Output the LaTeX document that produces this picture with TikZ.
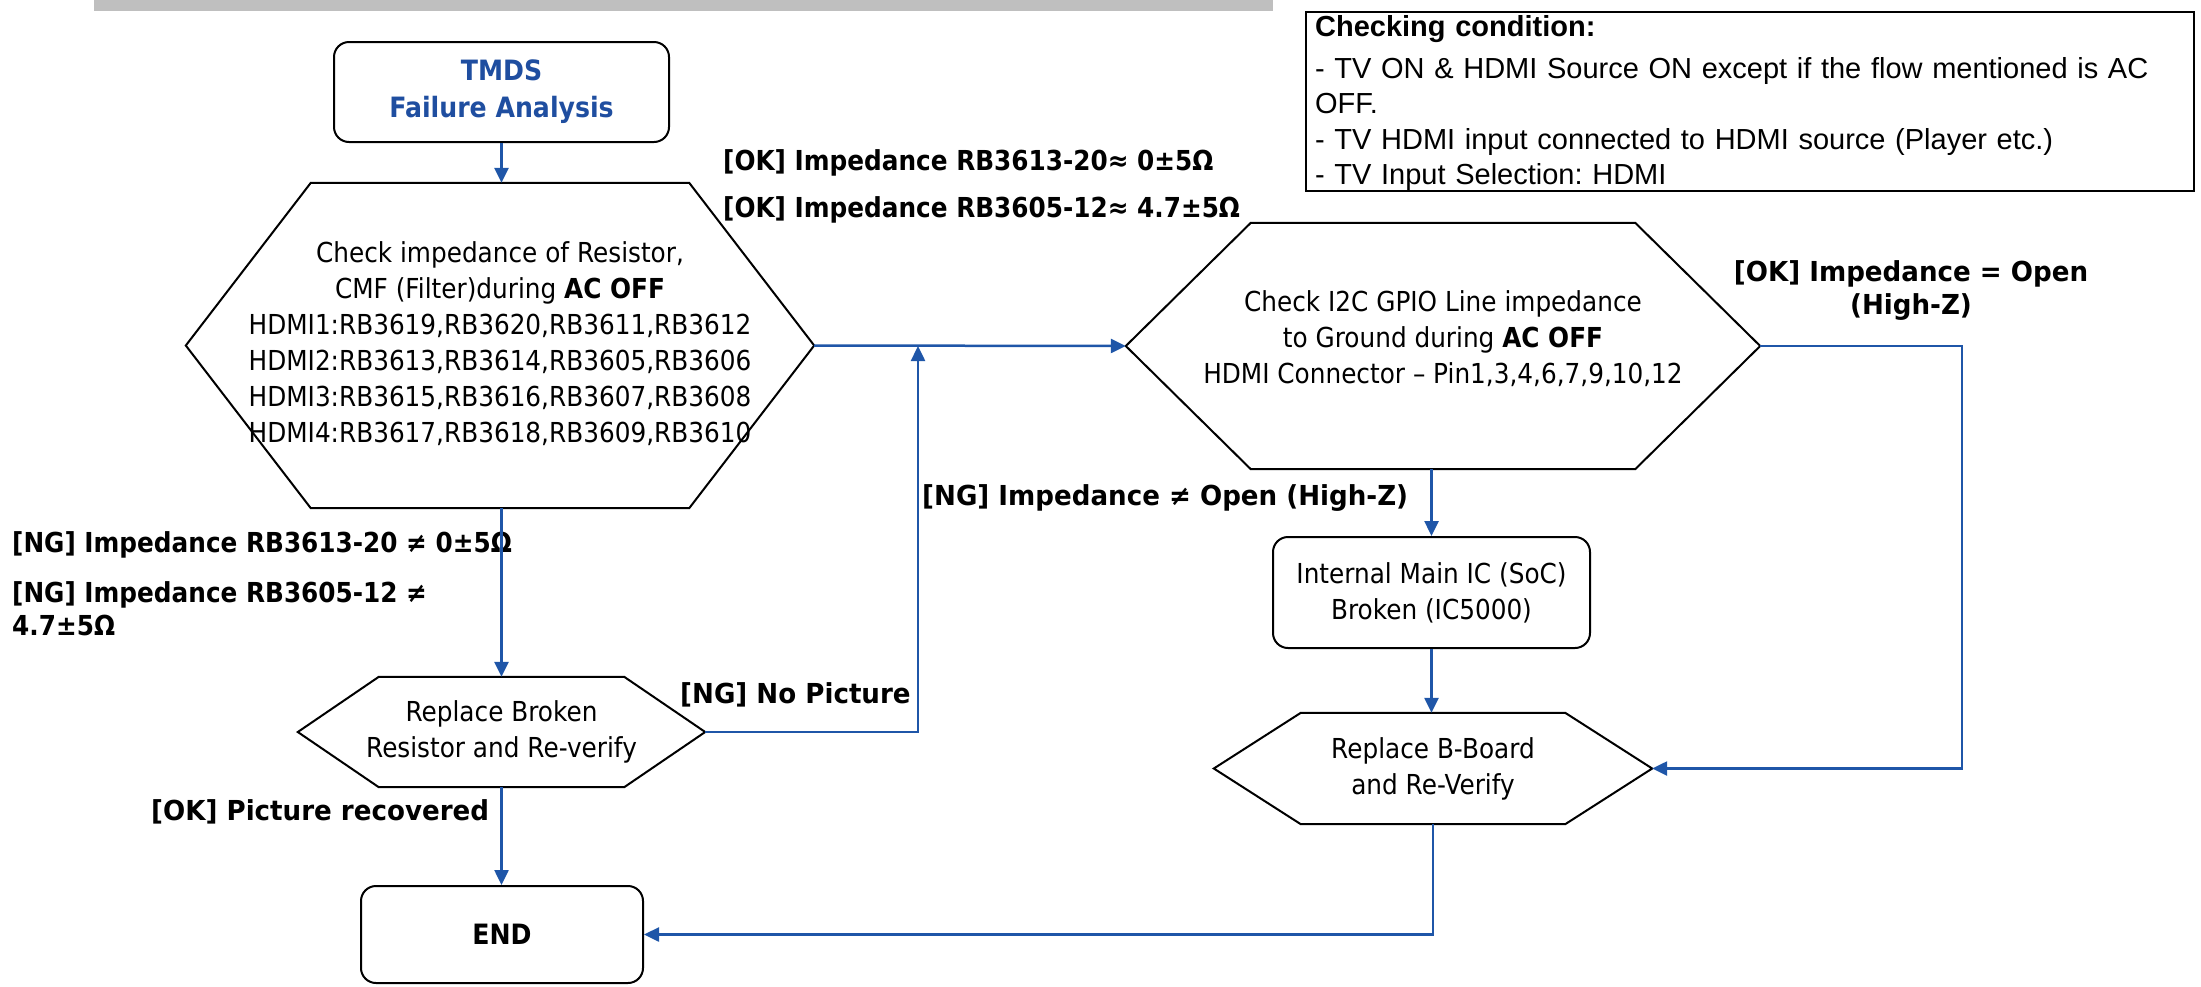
\documentclass[tikz,border=0pt]{standalone}
\usepackage{fontspec}
\setmainfont{DejaVu Sans}[FakeStretch=0.9]
\newfontfamily\wfont{DejaVu Sans}[FakeStretch=0.95]
\newfontfamily\condfont{Liberation Sans}
\usetikzlibrary{arrows.meta,calc}
\frenchspacing
\definecolor{lineblue}{RGB}{31,86,168}
\definecolor{titleblue}{RGB}{31,78,160}
\definecolor{bargray}{RGB}{191,191,191}
\tikzset{
  shapeline/.style={draw=black, line width=2pt, line join=miter},
  txt/.style={inner sep=0pt, align=center, font=\fontsize{27.5}{36}\selectfont},
  rbox/.style={txt, shapeline, rounded corners=15pt},
  hexnode/.style={inner sep=0pt},
  lbl/.style={inner sep=0pt, font=\bfseries\fontsize{27.5}{33}\selectfont},
  lblw/.style={inner sep=0pt, font=\wfont\bfseries\fontsize{27.5}{33}\selectfont},
  conn/.style={draw=lineblue, line width=2.5pt},
  arr/.style={conn, -{Triangle[length=15pt,width=14pt]}},
}
\newcommand\hexoutline[2]{%
  \draw[shapeline] (#1.west) -- ([xshift=#2]#1.north west) -- ([xshift=-#2]#1.north east)
    -- (#1.east) -- ([xshift=-#2]#1.south east) -- ([xshift=#2]#1.south west) -- cycle;}
\begin{document}
\begin{tikzpicture}[x=1pt,y=-1pt]
\useasboundingbox (0,0) rectangle (2201,986);
\fill[bargray] (94,0) rectangle (1273,11);

% condition box
\node[shapeline, line width=2.2pt, anchor=north west, inner xsep=9pt, inner ysep=0pt,
      minimum height=179pt, text width=870pt, align=left,
      font=\condfont\fontsize{29}{35.5}\selectfont] (cond) at (1305,11)
  {\rule{0pt}{23.5pt}\textbf{Checking condition:}\\[6.5pt]
   - TV ON \& HDMI Source ON except if the flow mentioned is AC\\
   OFF.\\
   - TV HDMI input connected to HDMI source (Player etc.)\\
   - TV Input Selection: HDMI};

% nodes
\node[rbox, minimum width=335pt, minimum height=100pt, text=titleblue,
      font=\bfseries\fontsize{28}{37}\selectfont] (tmds) at (501.5,92) {TMDS\\Failure Analysis};

\node[hexnode, minimum width=628pt, minimum height=325pt] (hexa) at (500,345.5) {};
\hexoutline{hexa}{125pt}
\node[txt] (hexatext) at ([yshift=1.5pt]hexa.center)
  {Check impedance of Resistor,\\
   CMF (Filter)during \textbf{AC OFF}\\
   HDMI1:RB3619,RB3620,RB3611,RB3612\\
   HDMI2:RB3613,RB3614,RB3605,RB3606\\
   HDMI3:RB3615,RB3616,RB3607,RB3608\\
   HDMI4:RB3617,RB3618,RB3609,RB3610};

\node[hexnode, minimum width=634pt, minimum height=246pt] (hexb) at (1443,346) {};
\hexoutline{hexb}{125pt}
\node[txt] (hexbtext) at ([yshift=7pt]hexb.center)
  {Check I2C GPIO Line impedance\\
   to Ground during \textbf{AC OFF}\\
   HDMI Connector -- Pin1,3,4,6,7,9,10,12};

\node[hexnode, minimum width=407pt, minimum height=110pt] (rb) at (501.5,732) {};
\hexoutline{rb}{81pt}
\node[txt] (rbtext) at (rb.center) {Replace Broken\\Resistor and Re-verify};

\node[rbox, minimum width=317pt, minimum height=111pt] (ic) at (1431.5,592.5)
  {Internal Main IC (SoC)\\Broken (IC5000)};

\node[hexnode, minimum width=438pt, minimum height=111pt] (bb) at (1433,768.5) {};
\hexoutline{bb}{87pt}
\node[txt] (bbtext) at (bb.center) {Replace B-Board\\and Re-Verify};

\node[rbox, minimum width=282pt, minimum height=97pt,
      font=\bfseries\fontsize{28}{35}\selectfont] (end) at (502,934.5) {END};

% labels
\node[lbl, anchor=west] (okA) at (723,163) {[OK] Impedance RB3613-20≈ 0±5Ω};
\node[lbl, anchor=west] (okB) at (723,210) {[OK] Impedance RB3605-12≈ 4.7±5Ω};
\node[lbl, anchor=west] (ngA) at (12,545) {[NG] Impedance RB3613-20 ≠ 0±5Ω};
\node[lbl, anchor=west, align=left] (ngB) at (12,609) {[NG] Impedance RB3605-12 ≠\\4.7±5Ω};
\node[lblw, align=center] (okC) at (1911,290.5) {[OK] Impedance = Open\\(High-Z)};
\node[lblw, anchor=west] (ngC) at (922,498) {[NG] Impedance ≠ Open (High-Z)};
\node[lblw, anchor=west] (ngD) at (680,695) {[NG] No Picture};
\node[lblw, anchor=west] (okD) at (151,812) {[OK] Picture recovered};

% connectors
\coordinate (join) at (918,346);
\coordinate (rturn) at (1962,346);
\draw[arr] (tmds.south) -- (tmds.south |- hexa.north);
\draw[arr] (hexa.east) -- (hexb.west);
\draw[arr] (rb.north |- hexa.south) -- (rb.north);
\draw[arr] (rb.east) -| (join);
\draw[arr] (ic.north |- hexb.south) -- (ic.north);
\draw[arr] (ic.south) -- (ic.south |- bb.north);
\draw[arr] (hexb.east) -- (rturn) |- (bb.east);
\draw[arr] (bb.south) |- (end.east);
\draw[arr] (rb.south) -- (rb.south |- end.north);
\end{tikzpicture}
\end{document}
